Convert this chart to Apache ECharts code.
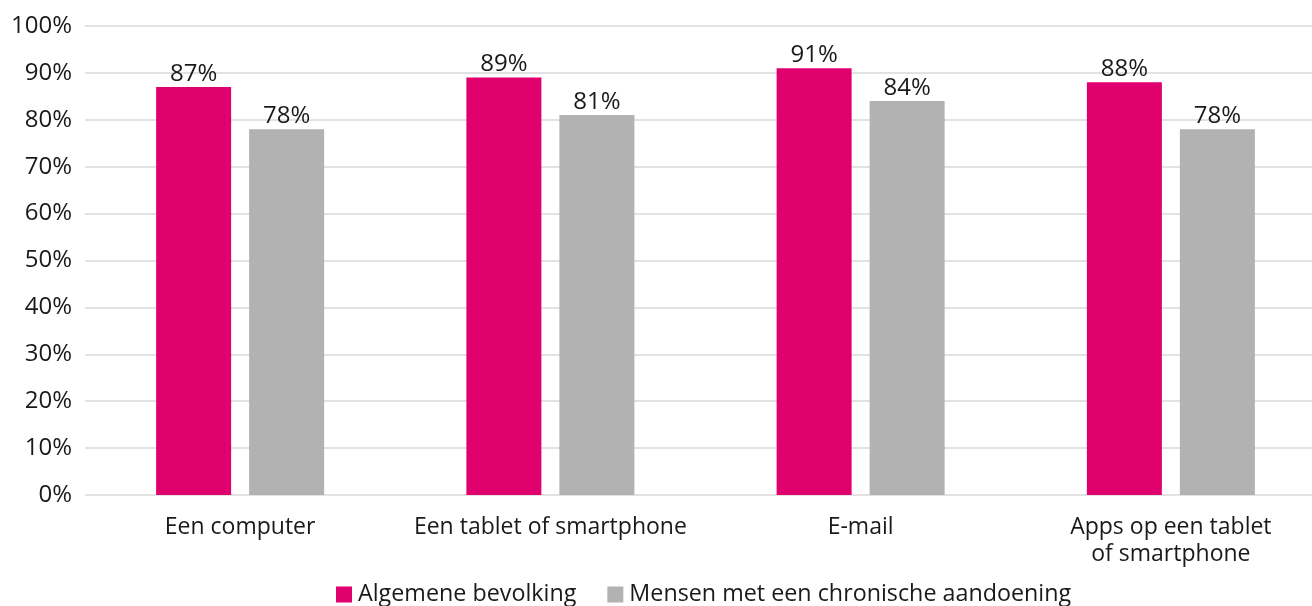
<!DOCTYPE html>
<html>
<head>
<meta charset="utf-8">
<script src="https://cdn.jsdelivr.net/npm/echarts@6/dist/echarts.min.js"></script>
<style>
  html, body { margin: 0; padding: 0; background: #fff; }
  #chart { width: 1312px; height: 606px; }
</style>
</head>
<body>
<div id="chart"></div>
<script>
// categorieën
const categories = ['Een computer', 'Een tablet of smartphone', 'E-mail', 'Apps op een tablet\nof smartphone']
// reeksen
const seriesNames = ['Algemene bevolking', 'Mensen met een chronische aandoening']
const algemeen = [87, 89, 91, 88]
const chronisch = [78, 81, 84, 78]

const FONT = '"Open Sans", "Noto Sans", sans-serif'
const TEXT = '#1a1a1a'

const chart = echarts.init(document.getElementById('chart'))

// label boven de balk
const barLabel = {
  show: true,
  position: 'top',
  distance: 1,
  formatter: '{c}%',
  fontFamily: FONT,
  fontSize: 24,
  color: TEXT
}

chart.setOption({
  animation: false,
  textStyle: { fontFamily: FONT },
  // plot loopt iets voorbij de rechterrand
  grid: { left: 85, right: -14, top: 26, bottom: 111, outerBoundsMode: 'none', containLabel: false },
  legend: {
    top: 583,
    left: 336,
    padding: 0,
    itemWidth: 16,
    itemHeight: 16,
    itemGap: 31,
    icon: 'rect',
    textStyle: { fontFamily: FONT, fontSize: 23.3, color: TEXT, padding: [0, 0, 0, 1] },
    data: seriesNames
  },
  xAxis: {
    type: 'category',
    data: categories,
    axisLine: { show: false },
    axisTick: { show: false },
    axisLabel: {
      fontFamily: FONT,
      fontSize: 23,
      color: TEXT,
      margin: 19,
      lineHeight: 27,
      interval: 0
    }
  },
  yAxis: {
    type: 'value',
    min: 0,
    max: 100,
    interval: 10,
    axisLine: { show: false },
    axisTick: { show: false },
    axisLabel: {
      formatter: '{value}%',
      fontFamily: FONT,
      fontSize: 24,
      color: TEXT,
      margin: 13
    },
    splitLine: { lineStyle: { color: '#d9d9d9', width: 1.5 } }
  },
  series: [
    {
      name: seriesNames[0],
      type: 'bar',
      data: algemeen,
      barWidth: 75,
      barGap: '24%',
      itemStyle: { color: '#e0006e' },
      label: barLabel
    },
    {
      name: seriesNames[1],
      type: 'bar',
      data: chronisch,
      barWidth: 75,
      itemStyle: { color: '#b2b2b2' },
      label: barLabel
    }
  ]
})
</script>
</body>
</html>
